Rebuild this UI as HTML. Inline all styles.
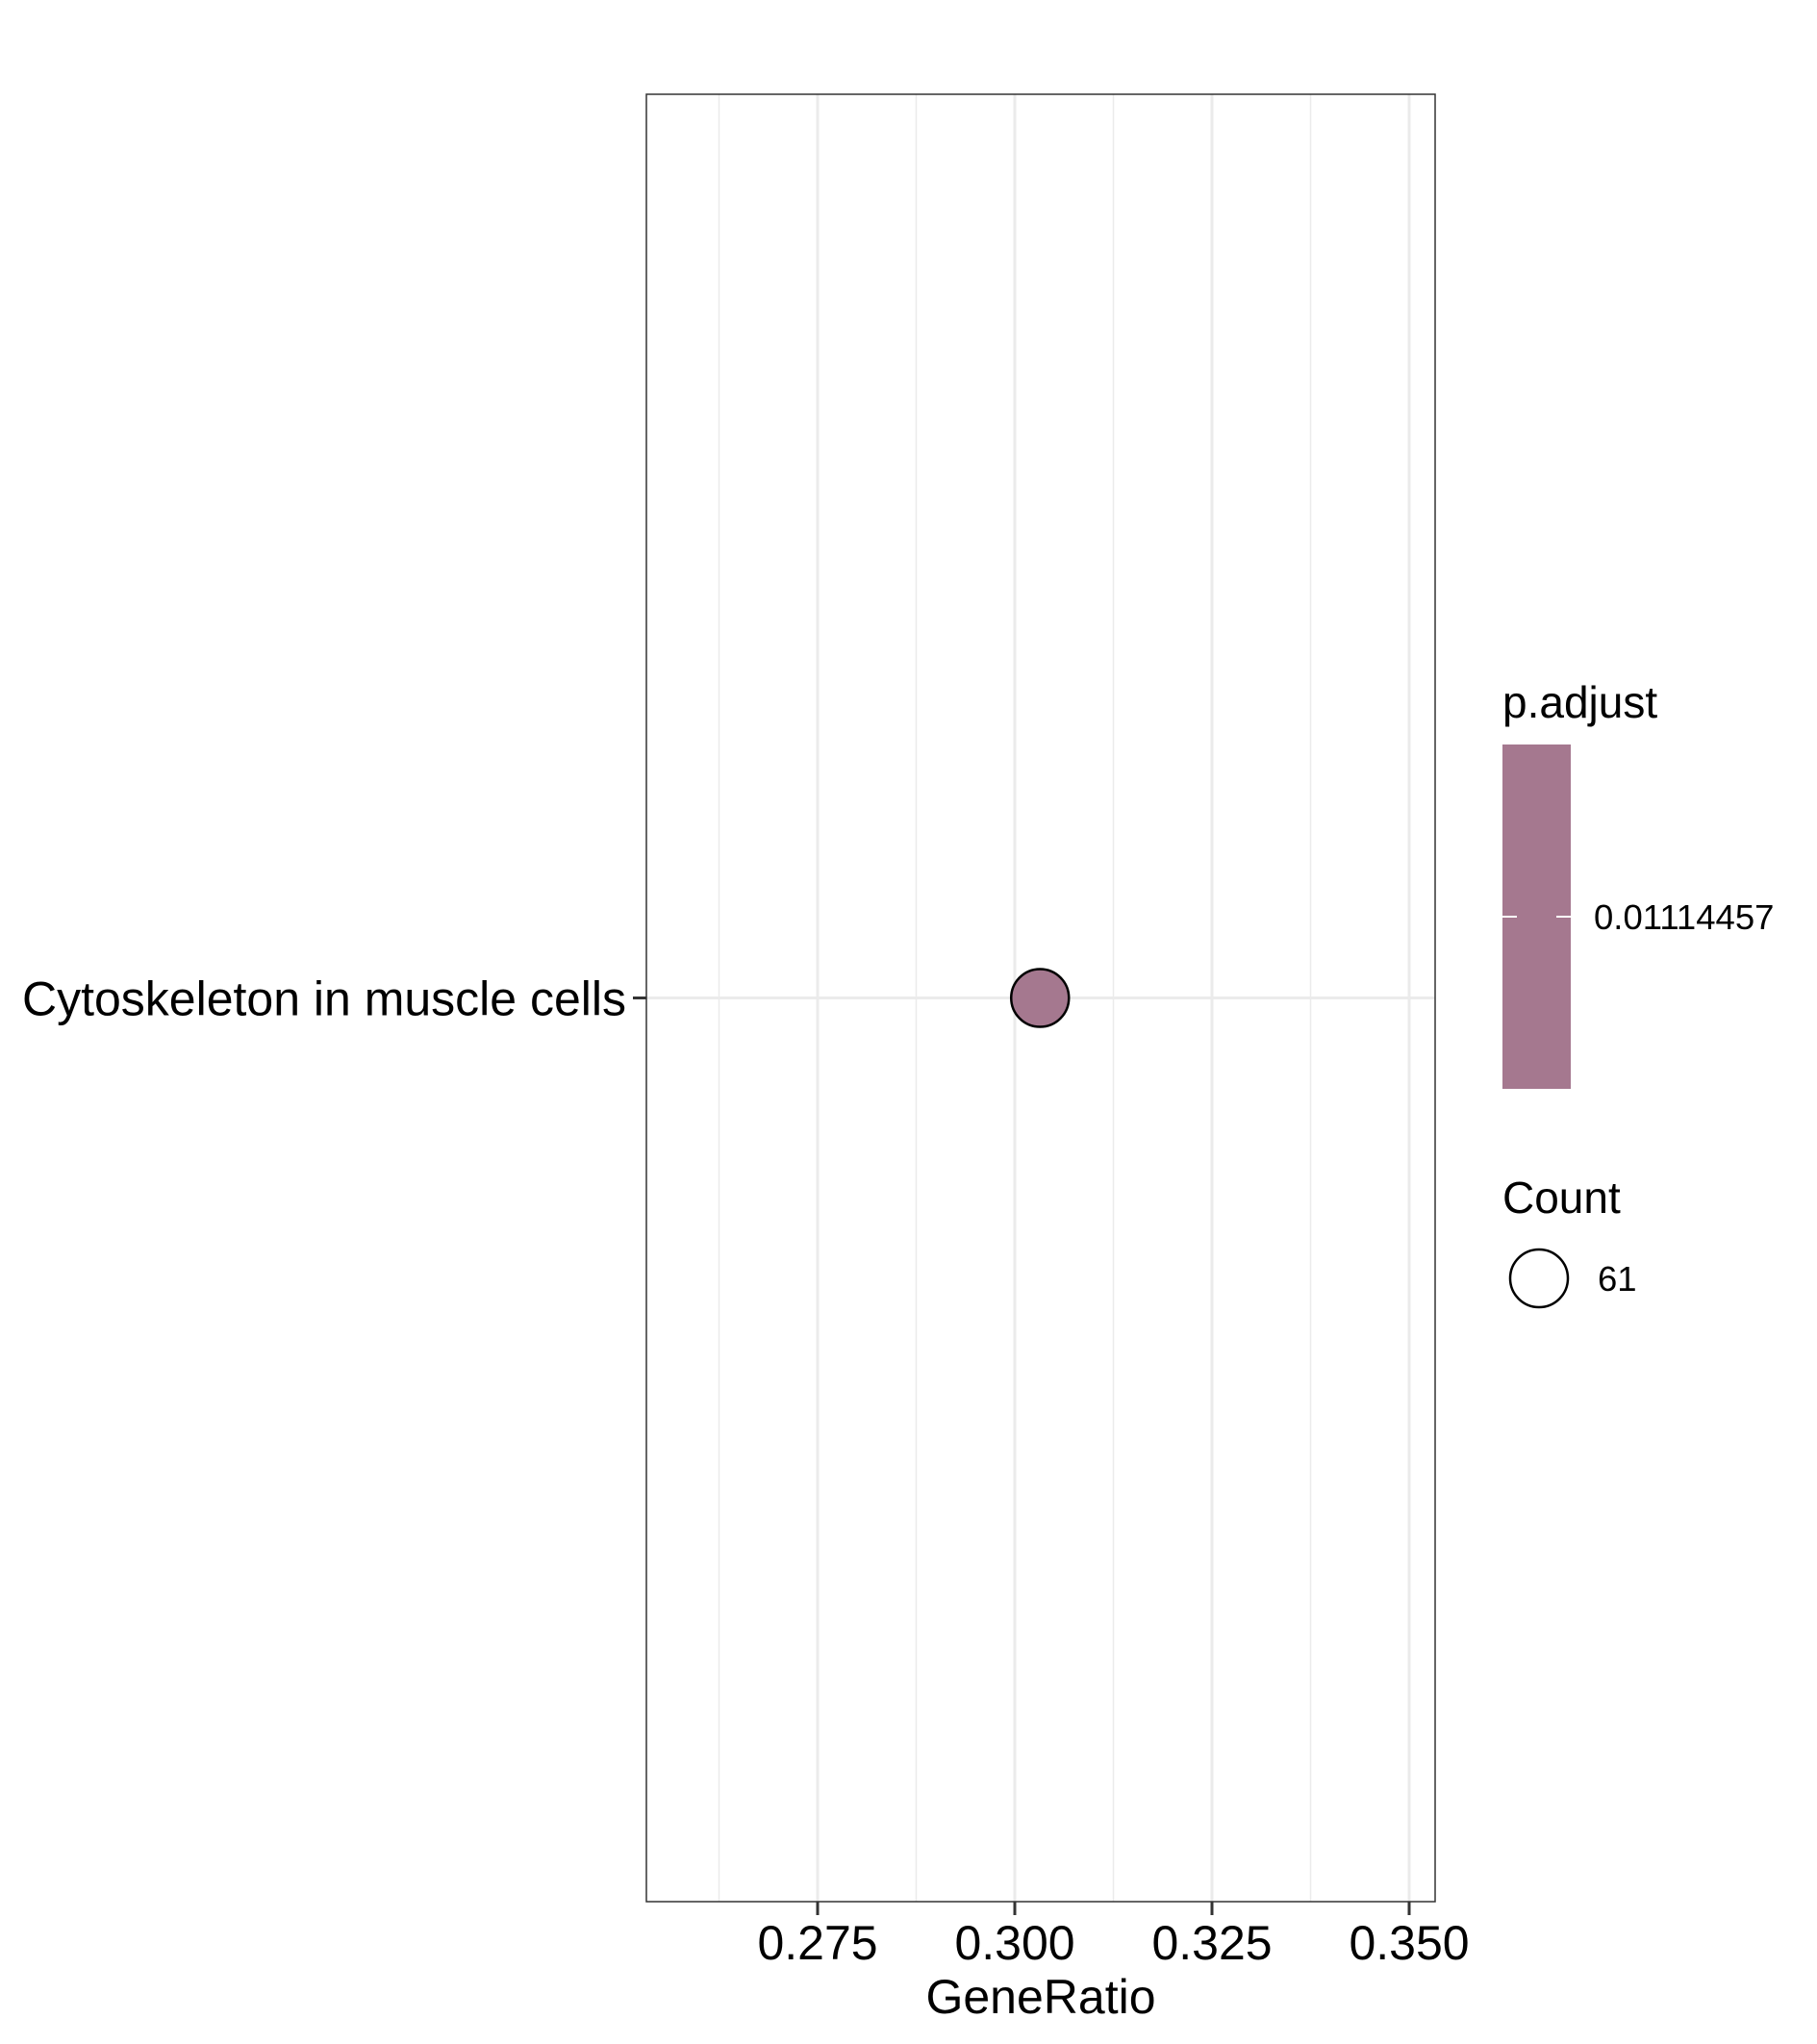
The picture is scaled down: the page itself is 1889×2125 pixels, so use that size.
<!DOCTYPE html>
<html><head><meta charset="utf-8"><style>html,body{margin:0;padding:0;background:#fff}svg{display:block}</style></head>
<body>
<svg id="chart" width="1889" height="2125" viewBox="0 0 1889 2125" xmlns="http://www.w3.org/2000/svg" font-family="Liberation Sans, Arial, sans-serif">
<rect width="1889" height="2125" fill="#fff"/>
<g id="grid"></g>
<g id="marks"></g>
<rect x="672" y="98" width="820" height="1879" fill="none" stroke="#333" stroke-width="1.5"/>
<g id="axes"></g>
<text x="1082" y="2093" font-size="50" text-anchor="middle">GeneRatio</text>
<g>
<text x="1562" y="746" font-size="46">p.adjust</text>
<rect x="1562" y="774" width="71" height="358" fill="#a5788f"/>
<line x1="1562" y1="953" x2="1577" y2="953" stroke="#fff" stroke-width="2"/>
<line x1="1618" y1="953" x2="1633" y2="953" stroke="#fff" stroke-width="2"/>
<text x="1657" y="966" font-size="36.5">0.01114457</text>
</g>
<g>
<text x="1562" y="1261" font-size="46">Count</text>
<circle cx="1600" cy="1329" r="30" fill="none" stroke="#000" stroke-width="2.5"/>
<text x="1661" y="1342" font-size="36.5">61</text>
</g>
</svg>
<script>
const categories = ["Cytoskeleton in muscle cells"];
const geneRatio = [0.3032];
const counts = [61];
const xTicks = [0.275, 0.300, 0.325, 0.350];
const xTickLabels = ["0.275", "0.300", "0.325", "0.350"];
const xMinor = [0.2625, 0.2875, 0.3125, 0.3375];

const NS = "http://www.w3.org/2000/svg";
const pLeft = 672, pRight = 1492, pTop = 98, pBottom = 1977;
function xScale(v){ return 1055 + (v - 0.3) * 8200; }
function yScale(i){ return pTop + (pBottom - pTop) * (i + 0.5) / categories.length; }
function mk(tag, attrs, parent){ const e = document.createElementNS(NS, tag); for (const k in attrs) e.setAttribute(k, attrs[k]); parent.appendChild(e); return e; }
const grid = document.getElementById('grid'), marks = document.getElementById('marks'), axes = document.getElementById('axes');
xMinor.forEach(v => {
  const l = mk('line', {x1: xScale(v), x2: xScale(v), y1: pTop, y2: pBottom, stroke: '#ebebeb', 'stroke-width': 1.5}, grid);
  
  
});
xTicks.forEach((v, i) => {
  const x = xScale(v);
  const g = mk('line', {x1: x, x2: x, y1: pTop, y2: pBottom, stroke: '#ebebeb', 'stroke-width': 3}, grid);
  
  
  const t = mk('line', {x1: x, x2: x, y1: pBottom, y2: pBottom + 14, stroke: '#333', 'stroke-width': 3}, axes);
  
  
  const tx = mk('text', {x: x, y: 2037, 'font-size': 50, 'text-anchor': 'middle'}, axes);
  tx.textContent = xTickLabels[i];
  
  
});
categories.forEach((c, i) => {
  const y = yScale(i);
  const g = mk('line', {x1: pLeft, x2: pRight, y1: y, y2: y, stroke: '#ebebeb', 'stroke-width': 3}, grid);
  
  
  const t = mk('line', {x1: pLeft - 14, x2: pLeft, y1: y, y2: y, stroke: '#333', 'stroke-width': 3}, axes);
  
  
  const tx = mk('text', {x: pLeft - 21, y: y + 18, 'font-size': 50, 'text-anchor': 'end'}, axes);
  tx.textContent = c;
  
  
  const r = 30 * Math.sqrt(counts[i] / 61);
  const d = mk('circle', {cx: xScale(geneRatio[i]), cy: y, r: r, fill: '#a5788f', stroke: '#000', 'stroke-width': 2.5}, marks);
  
  
});
</script>
</body></html>
